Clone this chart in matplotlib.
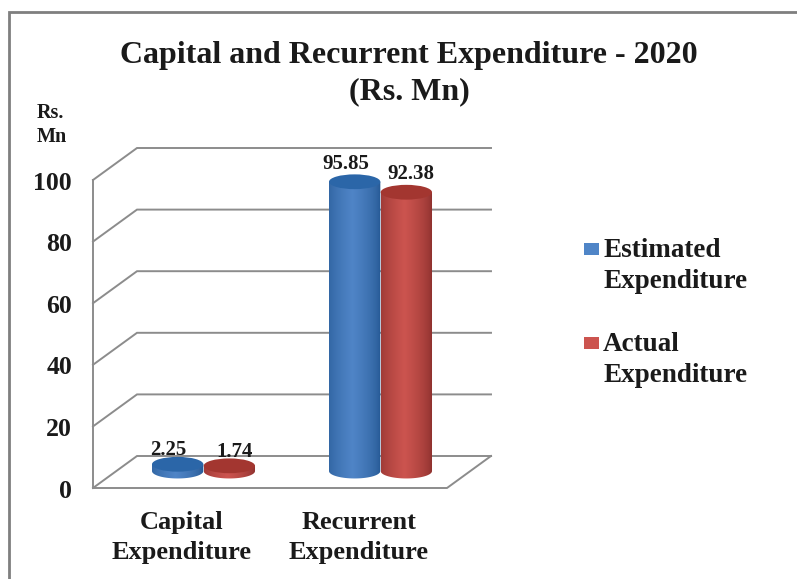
import numpy as np
import matplotlib
matplotlib.use('Agg')
import matplotlib.pyplot as plt
from matplotlib.lines import Line2D
from matplotlib.patches import Ellipse, PathPatch, Rectangle
from matplotlib.path import Path

categories = ['Capital\nExpenditure', 'Recurrent\nExpenditure']
series_names = ['Estimated\nExpenditure', 'Actual\nExpenditure']
estimated = [2.25, 95.85]
actual = [1.74, 92.38]
value_labels = [['2.25', '95.85'], ['1.74', '92.38']]
y_ticks = [0, 20, 40, 60, 80, 100]

W, H = 797, 579
plt.rcParams['font.family'] = ['Liberation Serif', 'DejaVu Serif']
plt.rcParams['font.weight'] = 'bold'
TXT = '#1a1a1a'
GRID = '#8c8c8c'


def px(x, y):
    return x / W, 1 - y / H


fig = plt.figure(figsize=(W / 100, H / 100), dpi=100)
# frame only shows on the top and left
fig.add_artist(Line2D([9 / W, 9 / W, 1], [0, 1 - 12 / H, 1 - 12 / H], transform=fig.transFigure,
                      color='#7f7f7f', lw=2, solid_joinstyle='miter'))

# front plane of the chart: x 93..447, y 488..180
ax = fig.add_axes([93 / W, 1 - 488 / H, 354 / W, 308 / H])
ax.set_xlim(0, 2)
ax.set_ylim(0, 100)
ax.axis('off')

depth_x = 44 / 177   # category units
depth_y = 32 / 3.08  # value units
lw_grid = 1.4

# walls and floor
for t in y_ticks:
    ax.plot([0, depth_x, 2 + depth_x - 0.0], [t, t + depth_y, t + depth_y], color=GRID, lw=lw_grid,
            clip_on=False, zorder=1, solid_joinstyle='miter')
    ax.text(-0.119, t - 1.0, str(t), ha='right', va='center', fontsize=18.5, color=TXT, clip_on=False)
ax.plot([0, 0], [0, 100], color=GRID, lw=lw_grid, clip_on=False, zorder=1)
ax.plot([0, 2, 2 + depth_x], [0, 0, depth_y], color=GRID, lw=lw_grid, clip_on=False, zorder=1)

bar_w = 0.29
ell_h = 4.8  # value units
base = depth_y / 2 + 0.3
scale = 0.98  # cylinder foreshortening at mid depth
offs = [-0.146, 0.146]
palette = [
    {'edge': (0.13, 0.33, 0.56), 'mid': (0.31, 0.52, 0.78), 'top': (0.17, 0.40, 0.66)},
    {'edge': (0.52, 0.17, 0.16), 'mid': (0.80, 0.33, 0.31), 'top': (0.64, 0.21, 0.19)},
]
label_dx = [-9, 5]
label_dy = [14, 18]


def cylinder(cx, value, pal, z):
    left, right = cx - bar_w / 2, cx + bar_w / 2
    top = base + value * scale
    t = np.linspace(0, 1, 64)
    # lit a bit left of centre, dark towards both edges
    s = np.clip(1 - np.abs(t - 0.45) / 0.55, 0, 1) ** 0.55
    grad = np.zeros((1, 64, 3))
    for i in range(3):
        grad[0, :, i] = pal['edge'][i] + (pal['mid'][i] - pal['edge'][i]) * s
    verts = [(left, top), (left, base)]
    arc = np.linspace(np.pi, 2 * np.pi, 40)
    verts += [(cx + bar_w / 2 * np.cos(a), base + ell_h / 2 * np.sin(a)) for a in arc]
    verts += [(right, top), (left, top)]
    body = PathPatch(Path(verts), transform=ax.transData, fc='none', ec='none')
    ax.add_patch(body)
    body.set_zorder(z)
    im = ax.imshow(grad, extent=(left, right, base - ell_h, top + ell_h), aspect='auto',
                   zorder=z, interpolation='bilinear')
    im.set_clip_path(body)
    ax.add_patch(Ellipse((cx, top), bar_w, ell_h, fc=pal['top'], ec='none', zorder=z + 0.1, clip_on=False))
    return top


for i, cat in enumerate(categories):
    gx = i + 0.5 + depth_x / 2
    for j, vals in enumerate([estimated, actual]):
        cx = gx + offs[j]
        top = cylinder(cx, vals[i], palette[j], 3 + j + i)
        ax.annotate(value_labels[j][i], (cx, top), xytext=(label_dx[j], label_dy[i]), textcoords='offset pixels',
                    ha='center', va='center', fontsize=15, color=TXT, zorder=10, annotation_clip=False)
    ax.text(i + 0.5, -16.2, cat, ha='center', va='center', fontsize=19, color=TXT,
            linespacing=1.4, clip_on=False)
ax.set_xlim(0, 2)
ax.set_ylim(0, 100)

# title and unit label
fig.text(*px(409, 74), 'Capital and Recurrent Expenditure - 2020\n(Rs. Mn)', ha='center', va='center',
         fontsize=23, color=TXT, linespacing=1.32)
fig.text(*px(37, 125), 'Rs.\nMn', ha='left', va='center', fontsize=14.5, color=TXT, linespacing=1.3)

# legend
legend_y = [249, 343]
for name, pal, ly in zip(series_names, palette, legend_y):
    fig.add_artist(Rectangle(px(584, ly + 6), 15 / W, 12 / H, transform=fig.transFigure,
                             fc=pal['mid'], ec='none'))
    fig.text(*px(603, ly + 17), name, ha='left', va='center', fontsize=19.5, color=TXT, linespacing=1.36)

fig.savefig('out.png', dpi=100)
